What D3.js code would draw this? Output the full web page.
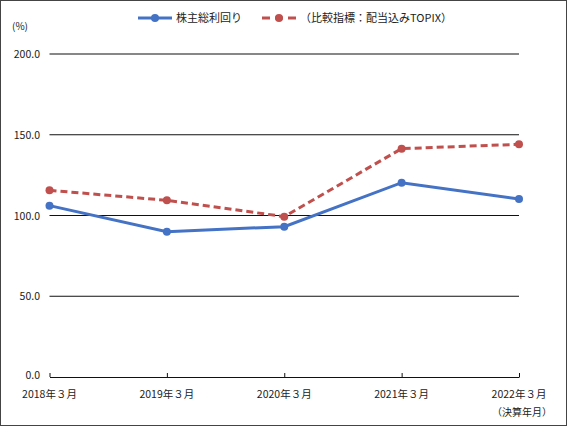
<!DOCTYPE html>
<html>
<head>
<meta charset="utf-8">
<script src="https://cdn.jsdelivr.net/npm/d3@7"></script>
<style>
  body { margin: 0; background: #fff; }
  text { font-family: "Noto Sans CJK JP", "Noto Sans", sans-serif; fill: #222; }
</style>
</head>
<body>
<svg width="567" height="426"></svg>
<script>
// data
const categories = ['2018年３月', '2019年３月', '2020年３月', '2021年３月', '2022年３月'];
const tsr = [106.1, 90.0, 93.1, 120.3, 110.2];
const topix = [115.6, 109.4, 99.3, 141.4, 144.1];
const yTicks = [0, 50, 100, 150, 200];
const seriesNames = ['株主総利回り', '（比較指標：配当込みTOPIX）'];

const svg = d3.select('svg');

// frame
svg.append('rect')
    .attr('x', 0.5).attr('y', 0.5)
    .attr('width', 566).attr('height', 425)
    .style('fill', '#fff')
    .style('stroke', '#444')
    .style('stroke-width', 1);

const x = d3.scalePoint()
    .domain(categories)
    .range([49.5, 519]);

const y = d3.scaleLinear()
    .domain([0, 200])
    .range([377, 54]);

// gridlines
svg.append('g').selectAll('line')
    .data(yTicks.filter((d) => d > 0))
    .enter().append('line')
    .attr('x1', 49.5).attr('x2', 519)
    .attr('y1', (d) => y(d)).attr('y2', (d) => y(d))
    .style('stroke', '#111')
    .style('stroke-width', 1.2);

// y labels
svg.append('g').selectAll('text')
    .data(yTicks)
    .enter().append('text')
    .attr('x', 40)
    .attr('y', (d) => y(d) + (d === 0 ? 2 : 4))
    .attr('text-anchor', 'end')
    .style('font-size', '10.5px')
    .text((d) => d.toFixed(1));

svg.append('text')
    .attr('x', 12).attr('y', 30)
    .style('font-size', '10px')
    .text('(%)');

// x axis
const xAxis = svg.append('g')
    .attr('transform', `translate(0,${y(0)})`)
    .call(d3.axisTop(x).tickSize(4).tickSizeOuter(0).tickFormat(''));
xAxis.select('.domain').style('stroke', '#111').style('stroke-width', 1.2);
xAxis.selectAll('line').style('stroke', '#111');

svg.append('g').selectAll('text')
    .data(categories)
    .enter().append('text')
    .attr('x', (d) => x(d))
    .attr('y', 398)
    .attr('text-anchor', 'middle')
    .style('font-size', '10.5px')
    .text((d) => d);

svg.append('text')
    .attr('x', 552).attr('y', 416)
    .attr('text-anchor', 'end')
    .style('font-size', '10px')
    .text('（決算年月）');

// lines
const series = [
  {name: seriesNames[0], values: tsr, color: '#4472C4', dash: null},
  {name: seriesNames[1], values: topix, color: '#C0504D', dash: '7,4'},
];

const line = d3.line()
    .x((d, i) => x(categories[i]))
    .y((d) => y(d));

series.forEach((s) => {
  const g = svg.append('g');
  g.append('path')
      .datum(s.values)
      .attr('d', line)
      .style('fill', 'none')
      .style('stroke', s.color)
      .style('stroke-width', 3)
      .style('stroke-dasharray', s.dash);
  g.selectAll('circle')
      .data(s.values)
      .enter().append('circle')
      .attr('cx', (d, i) => x(categories[i]))
      .attr('cy', (d) => y(d))
      .attr('r', 4)
      .style('fill', s.color);
});

// legend
const legend = svg.append('g').attr('transform', 'translate(0,18)');
const legendX = [138, 262];
series.forEach((s, i) => {
  const lg = legend.append('g').attr('transform', `translate(${legendX[i]},0)`);
  lg.append('line')
      .attr('x1', 0).attr('x2', 34)
      .style('stroke', s.color)
      .style('stroke-width', 3)
      .style('stroke-dasharray', s.dash ? '8,5' : null);
  lg.append('circle')
      .attr('cx', 17).attr('r', 4)
      .style('fill', s.color);
  lg.append('text')
      .attr('x', 38).attr('y', 4)
      .style('font-size', '11px')
      .text(s.name);
});
</script>
</body>
</html>
